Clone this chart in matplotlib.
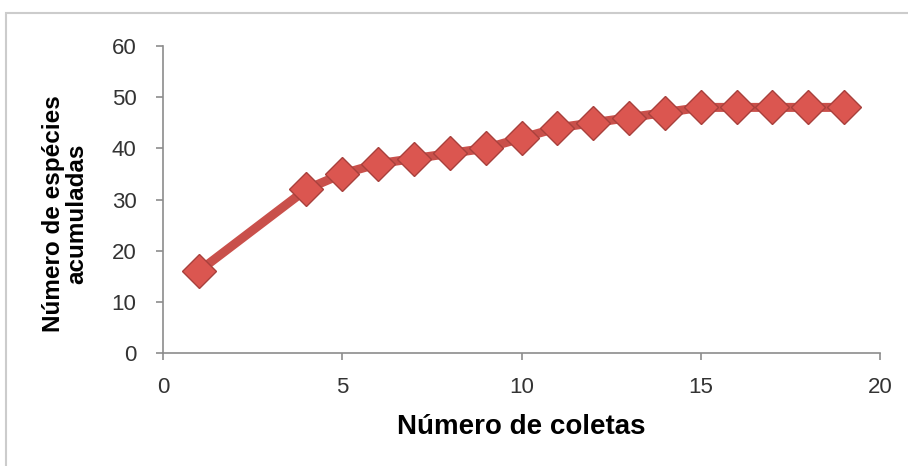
import matplotlib
matplotlib.use("Agg")
import matplotlib.pyplot as plt
from matplotlib.patches import Rectangle

# Accumulated species curve
coletas = [1, 4, 5, 6, 7, 8, 9, 10, 11, 12, 13, 14, 15, 16, 17, 18, 19]
especies = [16, 32, 35, 37, 38, 39, 40, 42, 44, 45, 46, 47, 48, 48, 48, 48, 48]

x_ticks = [0, 5, 10, 15, 20]
y_ticks = [0, 10, 20, 30, 40, 50, 60]

plt.rcParams["font.family"] = ["Liberation Sans", "DejaVu Sans"]

fig = plt.figure(figsize=(9.08, 4.66), dpi=100)
fig.patch.set_facecolor("white")

# Chart area border (cut off at right and bottom like the original)
fig.patches.append(Rectangle((6 / 908, -0.1), 1.1, 1 - 13 / 466 + 0.1,
                             transform=fig.transFigure, fill=False,
                             edgecolor="#cccccc", linewidth=1.5))

ax = fig.add_axes([163 / 908, 1 - 353 / 466, (880 - 163) / 908, (353 - 46) / 466])

ax.plot(coletas, especies, color="#C9504B", linewidth=6.5, solid_capstyle="round",
        marker="D", markersize=17, markerfacecolor="#DB5650",
        markeredgecolor="#A8403C", markeredgewidth=1, zorder=3)

ax.set_xlim(0, 20)
ax.set_ylim(0, 60)
ax.set_xticks(x_ticks)
ax.set_yticks(y_ticks)

for side in ["top", "right"]:
    ax.spines[side].set_visible(False)
for side in ["left", "bottom"]:
    ax.spines[side].set_color("#8c8c8c")
    ax.spines[side].set_linewidth(1.2)

ax.tick_params(axis="both", colors="#8c8c8c", length=5, width=1.2,
               labelsize=16, labelcolor="#333333")
ax.tick_params(axis="x", pad=12)
ax.tick_params(axis="y", pad=14)

ax.set_xlabel("Número de coletas", fontsize=20, fontweight="bold")
ax.set_ylabel("Número de espécies\nacumuladas", fontsize=17.5, fontweight="bold",
              linespacing=1.05)
ax.xaxis.set_label_coords(0.5, -0.199)
ax.yaxis.set_label_coords(-0.104, 0.455)

fig.savefig("out.png", dpi=100)
